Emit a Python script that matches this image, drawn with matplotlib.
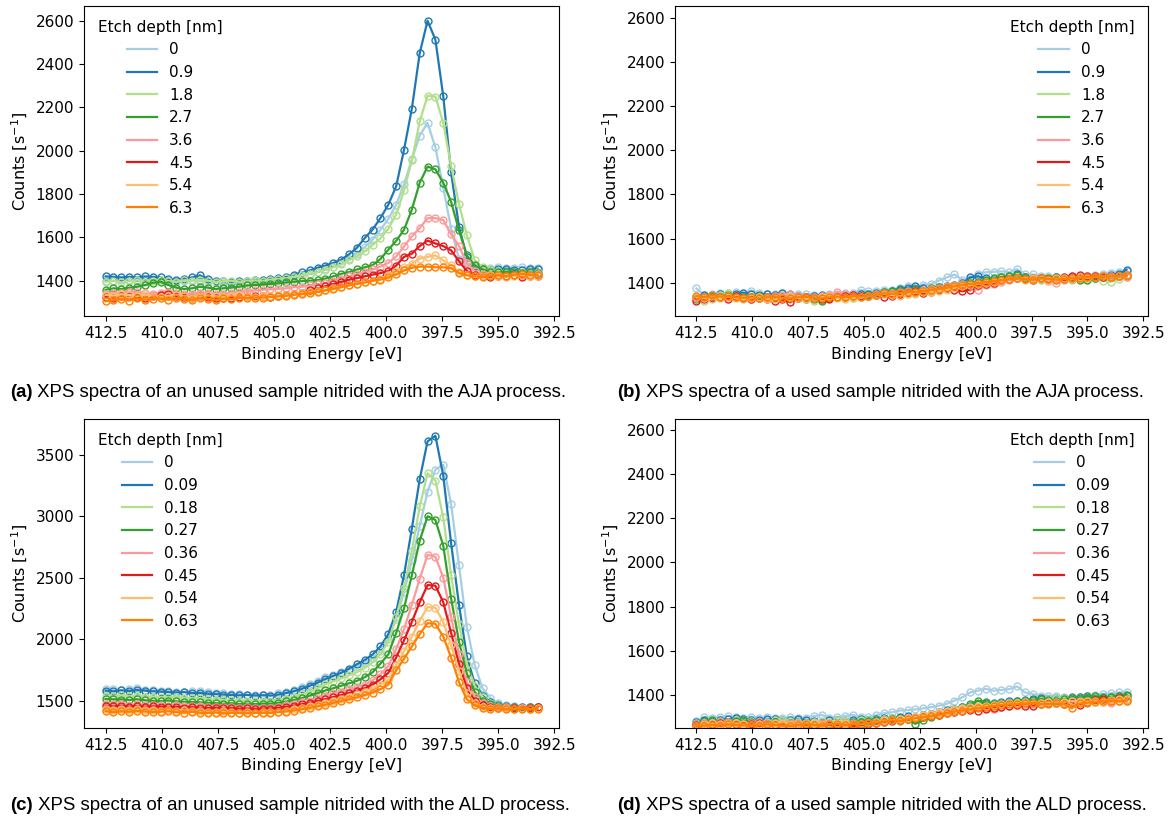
import numpy as np
import matplotlib
matplotlib.use('Agg')
import matplotlib.pyplot as plt

### Binding energy grid [eV] (measurement steps)
energy = np.linspace(412.5, 393.25, 56)

colors = ['#a6cee3', '#1f78b4', '#b2df8a', '#33a02c', '#fb9a99', '#e31a1c', '#fdbf6f', '#ff7f00']
labels_aja = ['0', '0.9', '1.8', '2.7', '3.6', '4.5', '5.4', '6.3']
labels_ald = ['0', '0.09', '0.18', '0.27', '0.36', '0.45', '0.54', '0.63']

captions = [
    ('(a)', ' XPS spectra of an unused sample nitrided with the AJA process.'),
    ('(b)', ' XPS spectra of a used sample nitrided with the AJA process.'),
    ('(c)', ' XPS spectra of an unused sample nitrided with the ALD process.'),
    ('(d)', ' XPS spectra of a used sample nitrided with the ALD process.'),
]

### (a) unused, AJA   counts [1/s]
a_0 = [1400, 1398, 1405, 1402, 1398, 1400, 1405, 1402, 1398, 1395, 1400, 1402, 1398, 1395,
       1392, 1390, 1388, 1392, 1395, 1398, 1400, 1402, 1405, 1410, 1418, 1425, 1432, 1440,
       1455, 1465, 1480, 1500, 1525, 1555, 1590, 1635, 1685, 1750, 1845, 1960, 2070, 2128,
       2015, 1830, 1640, 1500, 1468, 1462, 1458, 1460, 1462, 1458, 1460, 1463, 1460, 1458]
a_09 = [1420, 1418, 1415, 1418, 1415, 1420, 1418, 1415, 1408, 1405, 1410, 1415, 1425, 1410,
        1400, 1398, 1395, 1398, 1400, 1402, 1405, 1408, 1412, 1418, 1428, 1438, 1448, 1460,
        1470, 1482, 1497, 1522, 1552, 1597, 1636, 1689, 1751, 1835, 2004, 2194, 2450, 2600,
        2512, 2251, 1900, 1650, 1510, 1468, 1455, 1450, 1452, 1455, 1450, 1448, 1452, 1455]
a_18 = [1395, 1400, 1392, 1398, 1402, 1395, 1400, 1405, 1398, 1395, 1402, 1398, 1405, 1400,
        1395, 1398, 1400, 1395, 1398, 1402, 1400, 1405, 1408, 1412, 1418, 1425, 1432, 1440,
        1450, 1462, 1475, 1495, 1512, 1535, 1565, 1595, 1640, 1705, 1817, 1955, 2135, 2254,
        2250, 2128, 1930, 1755, 1610, 1495, 1462, 1448, 1445, 1440, 1438, 1442, 1440, 1438]
a_27 = [1358, 1365, 1362, 1368, 1372, 1380, 1390, 1395, 1380, 1368, 1362, 1365, 1372, 1368,
        1362, 1365, 1368, 1372, 1378, 1380, 1382, 1385, 1388, 1392, 1395, 1398, 1400, 1403,
        1410, 1420, 1432, 1440, 1452, 1462, 1472, 1500, 1543, 1584, 1635, 1728, 1852, 1927,
        1914, 1852, 1764, 1633, 1517, 1471, 1452, 1440, 1438, 1442, 1440, 1436, 1438, 1435]
a_36 = [1340, 1345, 1342, 1350, 1348, 1342, 1338, 1345, 1350, 1342, 1340, 1338, 1345, 1342,
        1338, 1340, 1345, 1348, 1352, 1355, 1358, 1360, 1362, 1365, 1370, 1372, 1378, 1383,
        1390, 1400, 1410, 1420, 1430, 1440, 1452, 1465, 1482, 1512, 1558, 1605, 1643, 1689,
        1689, 1680, 1615, 1560, 1482, 1445, 1430, 1425, 1428, 1422, 1425, 1428, 1425, 1430]
a_45 = [1325, 1322, 1328, 1330, 1325, 1320, 1328, 1332, 1340, 1330, 1325, 1322, 1328, 1325,
        1320, 1318, 1322, 1325, 1330, 1328, 1330, 1325, 1330, 1335, 1340, 1345, 1355, 1365,
        1375, 1385, 1395, 1405, 1412, 1420, 1428, 1435, 1445, 1470, 1510, 1525, 1560, 1585,
        1572, 1560, 1540, 1490, 1445, 1425, 1420, 1418, 1422, 1420, 1425, 1418, 1422, 1420]
a_54 = [1335, 1330, 1338, 1332, 1328, 1335, 1330, 1325, 1330, 1335, 1328, 1322, 1330, 1332,
        1328, 1325, 1330, 1332, 1328, 1325, 1330, 1328, 1332, 1335, 1340, 1345, 1348, 1352,
        1358, 1365, 1372, 1380, 1386, 1392, 1400, 1410, 1425, 1445, 1463, 1479, 1502, 1510,
        1517, 1494, 1471, 1440, 1428, 1422, 1420, 1425, 1420, 1418, 1422, 1425, 1420, 1423]
a_63 = [1305, 1310, 1315, 1308, 1318, 1312, 1315, 1318, 1312, 1320, 1315, 1310, 1318, 1315,
        1312, 1318, 1315, 1320, 1320, 1322, 1322, 1325, 1328, 1330, 1335, 1338, 1342, 1348,
        1355, 1362, 1370, 1378, 1385, 1392, 1400, 1405, 1415, 1430, 1448, 1460, 1465, 1465,
        1462, 1462, 1458, 1435, 1425, 1420, 1418, 1422, 1425, 1420, 1428, 1432, 1428, 1425]

### (b) used, AJA
b_0 = [1375, 1345, 1350, 1355, 1352, 1358, 1350, 1365, 1352, 1348, 1350, 1355, 1345, 1348,
       1350, 1345, 1342, 1348, 1350, 1352, 1355, 1368, 1362, 1365, 1368, 1370, 1375, 1385,
       1380, 1392, 1395, 1410, 1425, 1438, 1415, 1418, 1440, 1448, 1450, 1452, 1448, 1462,
       1440, 1438, 1432, 1430, 1428, 1425, 1430, 1428, 1432, 1435, 1440, 1445, 1450, 1452]
b_09 = [1335, 1345, 1340, 1348, 1342, 1350, 1355, 1348, 1345, 1350, 1345, 1352, 1348, 1340,
        1338, 1342, 1345, 1340, 1335, 1342, 1345, 1348, 1350, 1355, 1360, 1365, 1372, 1378,
        1385, 1378, 1370, 1380, 1385, 1390, 1398, 1425, 1430, 1420, 1418, 1425, 1432, 1438,
        1425, 1415, 1420, 1418, 1425, 1422, 1420, 1425, 1428, 1422, 1430, 1435, 1440, 1460]
b_18 = [1330, 1318, 1340, 1345, 1355, 1340, 1335, 1340, 1338, 1335, 1332, 1340, 1335, 1330,
        1325, 1320, 1322, 1330, 1335, 1338, 1332, 1335, 1340, 1345, 1348, 1352, 1345, 1350,
        1348, 1355, 1362, 1370, 1378, 1385, 1395, 1400, 1405, 1410, 1415, 1420, 1425, 1430,
        1422, 1418, 1415, 1420, 1412, 1418, 1415, 1420, 1418, 1422, 1410, 1405, 1418, 1425]
b_27 = [1325, 1335, 1340, 1338, 1345, 1340, 1335, 1338, 1342, 1335, 1330, 1338, 1335, 1332,
        1328, 1325, 1320, 1330, 1335, 1338, 1340, 1342, 1345, 1350, 1358, 1362, 1370, 1365,
        1372, 1360, 1375, 1380, 1385, 1390, 1395, 1400, 1405, 1412, 1420, 1425, 1430, 1435,
        1428, 1420, 1418, 1422, 1425, 1420, 1418, 1415, 1412, 1420, 1425, 1428, 1430, 1432]
b_36 = [1330, 1335, 1332, 1338, 1340, 1335, 1330, 1328, 1335, 1338, 1340, 1345, 1350, 1342,
        1338, 1335, 1340, 1345, 1358, 1350, 1345, 1340, 1342, 1348, 1352, 1355, 1358, 1362,
        1365, 1370, 1372, 1378, 1385, 1390, 1395, 1380, 1368, 1390, 1395, 1405, 1415, 1420,
        1418, 1415, 1420, 1410, 1400, 1415, 1418, 1420, 1425, 1430, 1428, 1432, 1430, 1428]
b_45 = [1320, 1325, 1330, 1335, 1328, 1340, 1330, 1325, 1332, 1328, 1320, 1325, 1312, 1330,
        1335, 1332, 1328, 1325, 1335, 1340, 1345, 1342, 1340, 1345, 1338, 1342, 1350, 1355,
        1362, 1352, 1360, 1368, 1375, 1370, 1362, 1370, 1390, 1395, 1400, 1412, 1418, 1420,
        1418, 1420, 1422, 1418, 1420, 1425, 1430, 1435, 1432, 1430, 1428, 1425, 1430, 1435]
b_54 = [1335, 1330, 1328, 1332, 1338, 1330, 1325, 1330, 1335, 1328, 1325, 1330, 1335, 1332,
        1328, 1330, 1335, 1340, 1332, 1328, 1330, 1335, 1340, 1345, 1350, 1345, 1340, 1348,
        1355, 1360, 1358, 1365, 1370, 1378, 1385, 1390, 1395, 1400, 1405, 1410, 1418, 1420,
        1415, 1420, 1418, 1415, 1420, 1422, 1418, 1425, 1422, 1428, 1430, 1425, 1430, 1435]
b_63 = [1340, 1335, 1345, 1338, 1340, 1335, 1332, 1335, 1330, 1335, 1338, 1332, 1330, 1335,
        1338, 1332, 1330, 1335, 1338, 1335, 1340, 1338, 1342, 1345, 1352, 1350, 1355, 1360,
        1358, 1362, 1368, 1372, 1378, 1385, 1390, 1395, 1398, 1402, 1408, 1412, 1418, 1420,
        1418, 1415, 1420, 1418, 1415, 1418, 1420, 1422, 1425, 1428, 1430, 1428, 1432, 1435]

### (c) unused, ALD
c_0 = [1595, 1590, 1585, 1592, 1600, 1588, 1582, 1580, 1575, 1572, 1570, 1575, 1580, 1568,
       1562, 1558, 1555, 1552, 1548, 1545, 1548, 1548, 1558, 1570, 1588, 1610, 1632, 1658,
       1690, 1710, 1730, 1752, 1775, 1805, 1845, 1905, 2000, 2160, 2380, 2640, 2920, 3200,
       3380, 3420, 3100, 2600, 2100, 1790, 1600, 1520, 1480, 1465, 1455, 1450, 1445, 1448]
c_009 = [1580, 1575, 1582, 1578, 1585, 1580, 1575, 1572, 1568, 1565, 1568, 1560, 1562, 1555,
         1552, 1548, 1545, 1542, 1545, 1540, 1542, 1540, 1548, 1560, 1575, 1595, 1620, 1645,
         1675, 1700, 1725, 1760, 1795, 1830, 1875, 1940, 2040, 2220, 2520, 2900, 3300, 3610,
         3655, 3330, 2780, 2280, 1860, 1640, 1540, 1490, 1465, 1455, 1450, 1448, 1445, 1450]
c_018 = [1540, 1538, 1542, 1535, 1540, 1532, 1530, 1528, 1525, 1530, 1522, 1518, 1520, 1512,
         1508, 1505, 1502, 1498, 1500, 1497, 1500, 1497, 1505, 1515, 1530, 1550, 1572, 1600,
         1632, 1655, 1680, 1705, 1730, 1765, 1810, 1880, 1975, 2180, 2420, 2720, 3080, 3350,
         3290, 2990, 2520, 2120, 1800, 1620, 1530, 1480, 1458, 1448, 1442, 1438, 1440, 1435]
c_027 = [1512, 1510, 1508, 1505, 1510, 1502, 1498, 1495, 1500, 1492, 1490, 1488, 1485, 1482,
         1478, 1475, 1478, 1472, 1475, 1470, 1475, 1475, 1482, 1492, 1505, 1520, 1540, 1560,
         1582, 1600, 1620, 1640, 1660, 1690, 1730, 1800, 1875, 2050, 2250, 2520, 2800, 3000,
         2970, 2760, 2330, 1980, 1720, 1570, 1500, 1468, 1455, 1448, 1445, 1442, 1445, 1450]
c_036 = [1470, 1468, 1472, 1465, 1470, 1462, 1465, 1460, 1458, 1462, 1455, 1458, 1452, 1450,
         1448, 1445, 1448, 1442, 1445, 1440, 1442, 1443, 1450, 1460, 1472, 1485, 1500, 1518,
         1540, 1558, 1572, 1590, 1607, 1630, 1665, 1715, 1780, 1920, 2080, 2280, 2490, 2686,
         2670, 2500, 2180, 1880, 1650, 1530, 1480, 1458, 1448, 1445, 1442, 1440, 1443, 1440]
c_045 = [1456, 1452, 1458, 1450, 1455, 1448, 1452, 1450, 1445, 1448, 1442, 1445, 1440, 1438,
         1440, 1435, 1438, 1432, 1435, 1430, 1434, 1434, 1440, 1448, 1458, 1470, 1482, 1496,
         1512, 1528, 1545, 1562, 1580, 1600, 1630, 1672, 1725, 1850, 1990, 2140, 2300, 2440,
         2435, 2300, 2050, 1800, 1600, 1500, 1460, 1445, 1440, 1442, 1438, 1440, 1442, 1445]
c_054 = [1430, 1425, 1428, 1422, 1430, 1420, 1425, 1418, 1422, 1415, 1420, 1412, 1415, 1410,
         1408, 1412, 1405, 1402, 1408, 1400, 1404, 1405, 1410, 1418, 1428, 1440, 1452, 1466,
         1482, 1500, 1515, 1532, 1552, 1570, 1595, 1628, 1670, 1790, 1900, 2020, 2150, 2260,
         2255, 2140, 1950, 1740, 1560, 1480, 1450, 1440, 1435, 1438, 1432, 1435, 1430, 1435]
c_063 = [1415, 1405, 1412, 1408, 1415, 1410, 1405, 1408, 1412, 1405, 1402, 1408, 1400, 1398,
         1402, 1395, 1400, 1398, 1395, 1400, 1398, 1400, 1405, 1410, 1418, 1428, 1440, 1452,
         1465, 1480, 1495, 1510, 1525, 1545, 1565, 1592, 1630, 1745, 1840, 1940, 2040, 2130,
         2125, 2020, 1850, 1650, 1510, 1460, 1440, 1432, 1435, 1430, 1428, 1432, 1428, 1430]

### (d) used, ALD
d_0 = [1282, 1300, 1298, 1302, 1305, 1300, 1298, 1302, 1296, 1300, 1298, 1295, 1300, 1298,
       1296, 1305, 1310, 1298, 1300, 1305, 1310, 1302, 1300, 1310, 1318, 1322, 1330, 1332,
       1335, 1340, 1345, 1352, 1360, 1375, 1390, 1412, 1420, 1428, 1420, 1423, 1427, 1439,
       1412, 1405, 1397, 1397, 1395, 1390, 1388, 1390, 1395, 1400, 1405, 1408, 1412, 1415]
d_009 = [1278, 1285, 1282, 1288, 1290, 1295, 1292, 1288, 1285, 1290, 1292, 1288, 1285, 1290,
         1285, 1282, 1280, 1285, 1288, 1282, 1285, 1290, 1288, 1292, 1295, 1298, 1300, 1305,
         1300, 1308, 1315, 1325, 1332, 1338, 1345, 1350, 1360, 1365, 1362, 1368, 1372, 1375,
         1378, 1380, 1385, 1382, 1388, 1385, 1390, 1392, 1395, 1388, 1385, 1390, 1395, 1398]
d_018 = [1275, 1280, 1285, 1282, 1278, 1285, 1288, 1282, 1278, 1280, 1285, 1288, 1282, 1278,
         1275, 1280, 1282, 1278, 1285, 1282, 1280, 1285, 1288, 1285, 1290, 1295, 1292, 1298,
         1302, 1305, 1310, 1318, 1325, 1330, 1338, 1345, 1350, 1355, 1358, 1362, 1365, 1368,
         1372, 1375, 1378, 1380, 1385, 1388, 1385, 1388, 1390, 1385, 1382, 1385, 1390, 1392]
d_027 = [1270, 1282, 1285, 1280, 1278, 1282, 1285, 1280, 1275, 1270, 1278, 1275, 1272, 1268,
         1272, 1270, 1268, 1265, 1270, 1275, 1278, 1280, 1282, 1285, 1288, 1292, 1295, 1290,
         1270, 1285, 1300, 1312, 1322, 1335, 1345, 1358, 1375, 1368, 1360, 1362, 1365, 1372,
         1375, 1378, 1380, 1378, 1375, 1382, 1385, 1388, 1392, 1395, 1390, 1392, 1398, 1402]
d_036 = [1268, 1272, 1275, 1280, 1278, 1272, 1270, 1275, 1278, 1272, 1268, 1270, 1275, 1272,
         1268, 1272, 1275, 1270, 1268, 1272, 1275, 1270, 1275, 1278, 1282, 1285, 1290, 1295,
         1300, 1302, 1308, 1315, 1322, 1328, 1335, 1338, 1345, 1340, 1335, 1345, 1350, 1355,
         1358, 1360, 1365, 1362, 1368, 1365, 1370, 1372, 1368, 1375, 1370, 1365, 1372, 1375]
d_045 = [1265, 1270, 1268, 1272, 1275, 1270, 1265, 1268, 1272, 1270, 1265, 1262, 1268, 1270,
         1265, 1262, 1268, 1265, 1260, 1262, 1258, 1265, 1270, 1272, 1278, 1282, 1288, 1292,
         1298, 1300, 1305, 1312, 1318, 1322, 1328, 1332, 1330, 1338, 1342, 1345, 1350, 1355,
         1352, 1350, 1358, 1362, 1365, 1360, 1368, 1355, 1370, 1378, 1380, 1375, 1385, 1380]
d_054 = [1262, 1268, 1272, 1270, 1275, 1272, 1268, 1265, 1270, 1268, 1272, 1275, 1270, 1268,
         1272, 1275, 1270, 1268, 1272, 1275, 1270, 1268, 1272, 1278, 1285, 1288, 1292, 1298,
         1302, 1308, 1315, 1322, 1330, 1335, 1340, 1345, 1350, 1352, 1355, 1360, 1362, 1365,
         1368, 1365, 1362, 1368, 1365, 1370, 1372, 1368, 1372, 1375, 1370, 1378, 1380, 1382]
d_063 = [1260, 1262, 1265, 1262, 1268, 1265, 1262, 1265, 1262, 1268, 1265, 1262, 1260, 1265,
         1268, 1265, 1262, 1268, 1270, 1265, 1268, 1270, 1272, 1275, 1280, 1285, 1282, 1290,
         1295, 1300, 1305, 1310, 1318, 1325, 1330, 1335, 1340, 1345, 1350, 1355, 1358, 1360,
         1362, 1365, 1360, 1358, 1362, 1360, 1340, 1362, 1365, 1368, 1372, 1375, 1372, 1375]


def plot_panel(ax, series, labels, loc, ylim):
    for y, lab, col in zip(series, labels, colors):
        ax.plot(energy, y, 'o', mfc='none', mec=col, ms=5, mew=1.0)
        ax.plot(energy, y, '-', color=col, lw=1.6, label=lab)
    ax.set_xlim(413.46, 392.29)
    ax.set_ylim(*ylim)
    ax.set_xlabel('Binding Energy [eV]', fontsize=11.5)
    ax.set_ylabel(r'Counts [s$^{-1}$]', fontsize=11.5)
    ax.tick_params(labelsize=11)
    ax.legend(title='Etch depth [nm]', loc=loc, frameon=False, fontsize=11, title_fontsize=11)


def main():
    fig = plt.figure(figsize=(11.72, 8.18), dpi=100)

    ax_a = fig.add_axes([0.0717, 0.6131, 0.4053, 0.3796])
    ax_b = fig.add_axes([0.5759, 0.6131, 0.4036, 0.3796])
    ax_c = fig.add_axes([0.0717, 0.1100, 0.4053, 0.3778])
    ax_d = fig.add_axes([0.5759, 0.1100, 0.4036, 0.3778])

    plot_panel(ax_a, [a_0, a_09, a_18, a_27, a_36, a_45, a_54, a_63], labels_aja, 'upper left', (1235, 2668))
    plot_panel(ax_b, [b_0, b_09, b_18, b_27, b_36, b_45, b_54, b_63], labels_aja, 'upper right', (1248, 2653))
    plot_panel(ax_c, [c_0, c_009, c_018, c_027, c_036, c_045, c_054, c_063], labels_ald, 'upper left', (1276, 3792))
    plot_panel(ax_d, [d_0, d_009, d_018, d_027, d_036, d_045, d_054, d_063], labels_ald, 'upper right', (1251, 2648))

    ### captions below each panel
    cap_pos = [(0.0085, 0.5196), (0.5265, 0.5196), (0.0085, 0.0147), (0.5265, 0.0147)]
    cap_font = ['Liberation Sans', 'DejaVu Sans']
    for (x, y), (tag, text) in zip(cap_pos, captions):
        t = fig.text(x, y, tag, fontsize=13.4, fontweight='bold', family=cap_font, va='center', ha='left')
        ax_a.annotate(text, xy=(1, 0), xycoords=t, va='bottom', ha='left',
                      fontsize=13.4, family=cap_font, annotation_clip=False)

    fig.savefig('out.png', dpi=100)


if __name__ == "__main__":
    main()
